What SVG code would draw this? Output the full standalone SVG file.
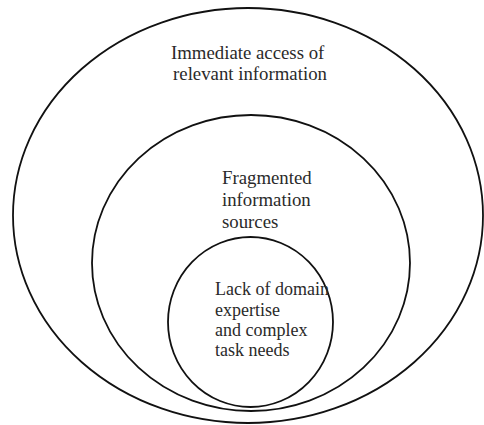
<svg xmlns="http://www.w3.org/2000/svg" width="484" height="425" viewBox="0 0 484 425">
  <style>
    .ring { fill: none; stroke: #111; stroke-width: 1.8; }
    .label { font-family: "Liberation Serif", "Times New Roman", serif; font-size: 18px; fill: #2a2a2a; }
    .big { font-size: 18.8px; }
  </style>
  <rect width="484" height="425" fill="#fff"/>
  <g id="outer">
    <ellipse class="ring" cx="248" cy="215.5" rx="235" ry="207.5"/>
    <text class="label big" text-anchor="middle">
      <tspan x="250" y="59">Immediate access of</tspan>
      <tspan x="250" y="80">relevant information</tspan>
    </text>
  </g>
  <g id="middle">
    <ellipse class="ring" cx="251" cy="263" rx="159" ry="148"/>
    <text class="label big">
      <tspan x="222" y="184">Fragmented</tspan>
      <tspan x="222" y="206">information</tspan>
      <tspan x="222" y="228">sources</tspan>
    </text>
  </g>
  <g id="inner">
    <ellipse class="ring" cx="250.5" cy="322" rx="82.5" ry="85"/>
    <text class="label">
      <tspan x="215" y="295">Lack of domain</tspan>
      <tspan x="215" y="316">expertise</tspan>
      <tspan x="215" y="336">and complex</tspan>
      <tspan x="215" y="356">task needs</tspan>
    </text>
  </g>
</svg>
